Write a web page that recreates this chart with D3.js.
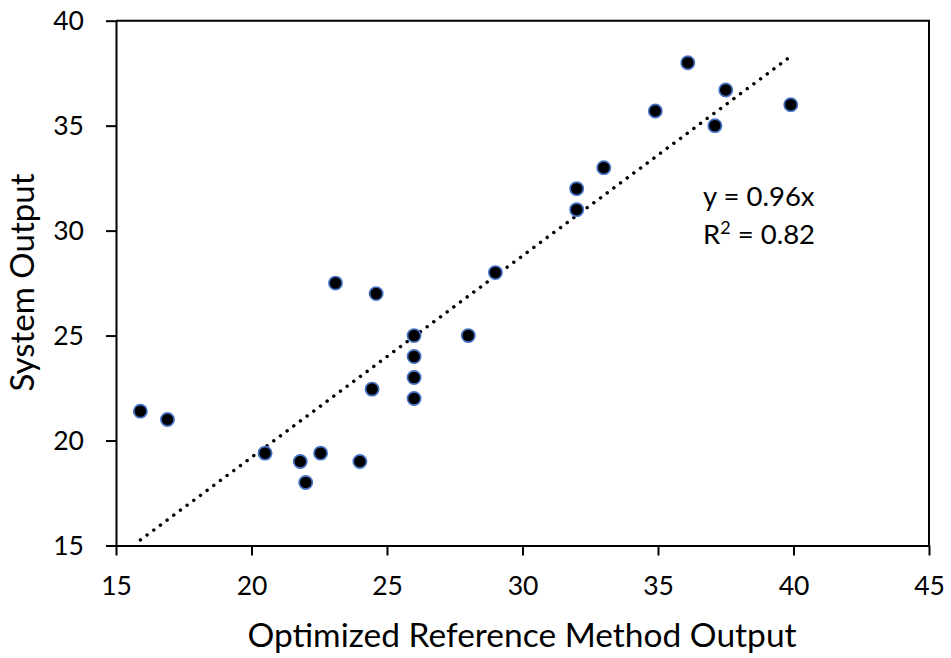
<!DOCTYPE html>
<html>
<head>
<meta charset="utf-8">
<script src="https://cdn.jsdelivr.net/npm/d3@7"></script>
<style>
  html, body { margin: 0; padding: 0; background: #fff; }
  svg text { font-family: Lato, "Open Sans", sans-serif; fill: #000; }
</style>
</head>
<body>
<svg id="chart" width="951" height="658"></svg>
<script>
// Reference method results (x) against system results (y)
const referenceOutput = [15.9, 16.9, 20.5, 21.8, 22.0, 22.55, 24.0, 23.1, 24.6, 24.45,
                         26.0, 26.0, 26.0, 26.0, 28.0, 29.0, 32.0, 32.0, 33.0, 34.9,
                         36.1, 37.5, 37.1, 39.9];
const systemOutput    = [21.4, 21.0, 19.4, 19.0, 18.0, 19.4, 19.0, 27.5, 27.0, 22.45,
                         25.0, 24.0, 23.0, 22.0, 25.0, 28.0, 32.0, 31.0, 33.0, 35.7,
                         38.0, 36.7, 35.0, 36.0];
const xTicks = [15, 20, 25, 30, 35, 40, 45];
const yTicks = [15, 20, 25, 30, 35, 40];
const slope = 0.96;
const rSquared = 0.82;

const svg = d3.select("#chart");
const plotLeft = 116, plotRight = 929, plotTop = 20.7, plotBottom = 545.5;

const x = d3.scaleLinear().domain([15, 45]).range([plotLeft, plotRight]);
const y = d3.scaleLinear().domain([15, 40]).range([plotBottom, plotTop]);

// plot frame (top and right edges)
svg.append("path")
  .attr("d", `M${plotLeft},${plotTop}H${plotRight}V${plotBottom}`)
  .attr("fill", "none").attr("stroke", "#000").attr("stroke-width", 2);

const xAxis = svg.append("g")
  .attr("transform", `translate(0,${plotBottom})`)
  .call(d3.axisBottom(x).tickValues(xTicks).tickSize(10).tickPadding(21).tickSizeOuter(0));
const yAxis = svg.append("g")
  .attr("transform", `translate(${plotLeft},0)`)
  .call(d3.axisLeft(y).tickValues(yTicks).tickSize(10).tickPadding(22).tickSizeOuter(0));

[xAxis, yAxis].forEach(g => {
  g.select(".domain").attr("stroke", "#000").attr("stroke-width", 2);
  g.selectAll(".tick line").attr("stroke", "#000").attr("stroke-width", 2);
  g.selectAll(".tick text").attr("font-size", 26.5).attr("font-family", "Lato, sans-serif").attr("fill", "#000");
});
yAxis.selectAll(".tick text").attr("dy", "0.35em");

// linear trendline through the origin, drawn across the data range
const xMin = d3.min(referenceOutput), xMax = d3.max(referenceOutput);
svg.append("line")
  .attr("x1", x(xMin)).attr("y1", y(slope * xMin))
  .attr("x2", x(xMax)).attr("y2", y(slope * xMax))
  .attr("stroke", "#000").attr("stroke-width", 3.5)
  .attr("stroke-linecap", "round")
  .attr("stroke-dasharray", "0.01 8.3");

// data points
svg.append("g").selectAll("circle")
  .data(referenceOutput.map((v, i) => [v, systemOutput[i]]))
  .join("circle")
  .attr("cx", d => x(d[0]))
  .attr("cy", d => y(d[1]))
  .attr("r", 6.6)
  .attr("fill", "#000")
  .attr("stroke", "#4472C4")
  .attr("stroke-width", 1.7);

// trendline equation
const eq = svg.append("g").attr("font-size", 27.5);
eq.append("text").attr("x", 703).attr("y", 206).text(`y = ${slope}x`);
const r2 = eq.append("text").attr("x", 703).attr("y", 244);
r2.append("tspan").text("R");
r2.append("tspan").attr("font-size", 18).attr("dy", -10).text("2");
r2.append("tspan").attr("dy", 10).text(` = ${rSquared}`);

// axis titles
svg.append("text")
  .attr("x", 522).attr("y", 647)
  .attr("text-anchor", "middle").attr("font-size", 33.5)
  .text("Optimized Reference Method Output");
svg.append("text")
  .attr("transform", "translate(34,282.5) rotate(-90)")
  .attr("text-anchor", "middle").attr("font-size", 33)
  .text("System Output");
</script>
</body>
</html>
